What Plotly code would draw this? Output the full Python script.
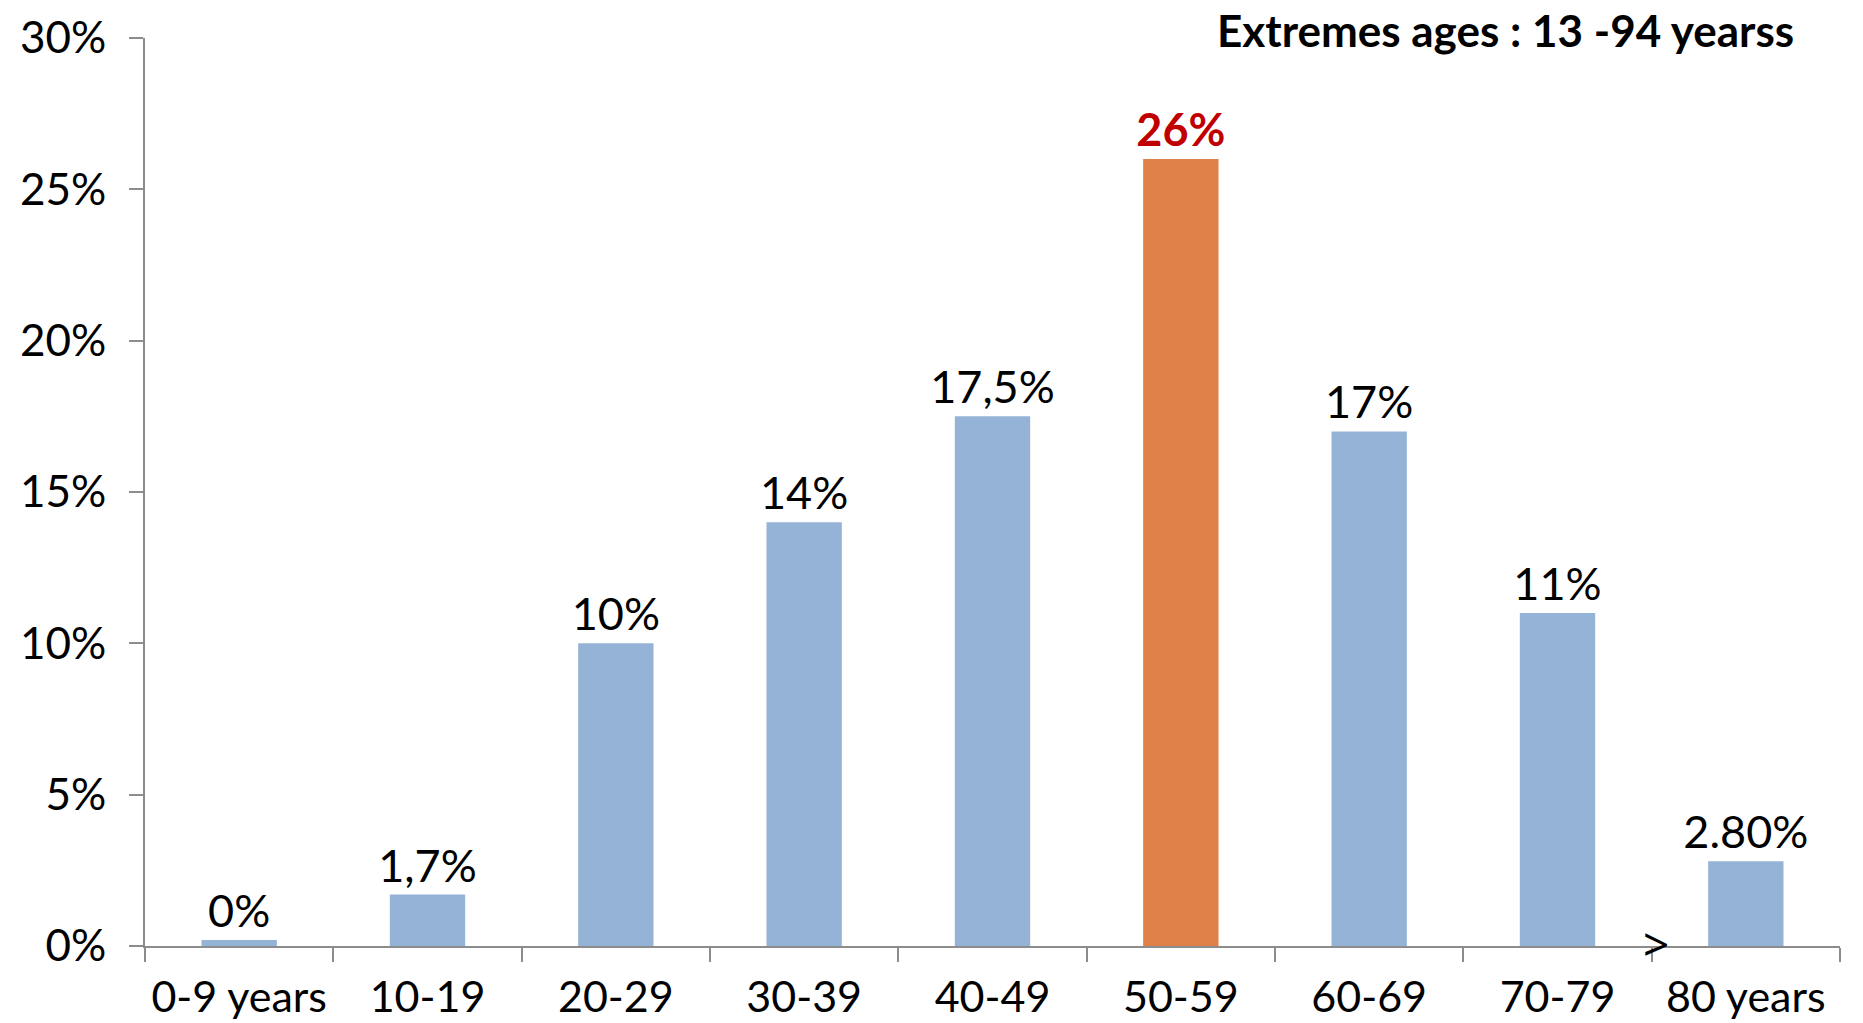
import plotly.graph_objects as go

# Age distribution of patients (share of total, %)
age_groups = ["0-9 years", "10-19", "20-29", "30-39", "40-49",
              "50-59", "60-69", "70-79", "80 years"]
shares = [0.2, 1.7, 10, 14, 17.5, 26, 17, 11, 2.8]
share_labels = ["0%", "1,7%", "10%", "14%", "17,5%", "26%", "17%", "11%", "2.80%"]
peak_group = "50-59"

y_ticks = [0, 5, 10, 15, 20, 25, 30]
y_tick_text = ["0%", "5%", "10%", "15%", "20%", "25%", "30%"]

BLUE = "#95B3D7"
ORANGE = "#DE8048"
RED = "#C00000"
AXIS_GREY = "#8C8C8C"
FONT = "Lato, 'Noto Sans', sans-serif"

bar_colors = [ORANGE if g == peak_group else BLUE for g in age_groups]
label_colors = [RED if g == peak_group else "black" for g in age_groups]
label_weights = ["bold" if g == peak_group else "normal" for g in age_groups]

fig = go.Figure()
fig.add_trace(go.Bar(
    x=age_groups,
    y=shares,
    marker=dict(color=bar_colors, line=dict(width=0)),
    text=share_labels,
    textposition="outside",
    constraintext="none",
    cliponaxis=False,
    textfont=dict(family=FONT, size=45, color=label_colors, weight=label_weights),
    showlegend=False,
    hoverinfo="skip",
))

# ">" marker sitting on the axis before the last age group
fig.add_annotation(
    x=7.5, y=0, xref="x", yref="y",
    text=">", showarrow=False,
    font=dict(family="'Noto Sans', sans-serif", size=46, color="black"),
    yanchor="middle", xanchor="center", yshift=3, xshift=4,
)

# Heading in the top-right corner
fig.add_annotation(
    x=(1796 - 145) / (1840 - 145), y=(946 - 2) / (946 - 38),
    xref="paper", yref="paper",
    text="<b>Extremes ages : 13 -94 yearss</b>", showarrow=False,
    font=dict(family="Lato, sans-serif", size=44, color="black"),
    xanchor="right", yanchor="top",
)

fig.update_layout(
    width=1863, height=1023,
    margin=dict(l=145, r=23, t=38, b=77, autoexpand=False),
    paper_bgcolor="white",
    plot_bgcolor="white",
    bargap=0.6,
    font=dict(family=FONT, color="black"),
)

fig.update_xaxes(
    type="category",
    showline=True, linecolor=AXIS_GREY, linewidth=2,
    ticks="outside", tickson="boundaries", ticklen=14, tickwidth=2, tickcolor=AXIS_GREY,
    tickfont=dict(family=FONT, size=43, color="black"),
    tickangle=0,
    ticklabelstandoff=12,
    automargin=False,
    showgrid=False, zeroline=False,
)
fig.update_yaxes(
    range=[0, 30],
    tickvals=y_ticks, ticktext=y_tick_text,
    showline=True, linecolor=AXIS_GREY, linewidth=2,
    ticks="outside", ticklen=14, tickwidth=2, tickcolor=AXIS_GREY,
    tickfont=dict(family=FONT, size=44, color="black"),
    ticklabelstandoff=14,
    automargin=False,
    showgrid=False, zeroline=False,
)

fig.write_html("out.html")
